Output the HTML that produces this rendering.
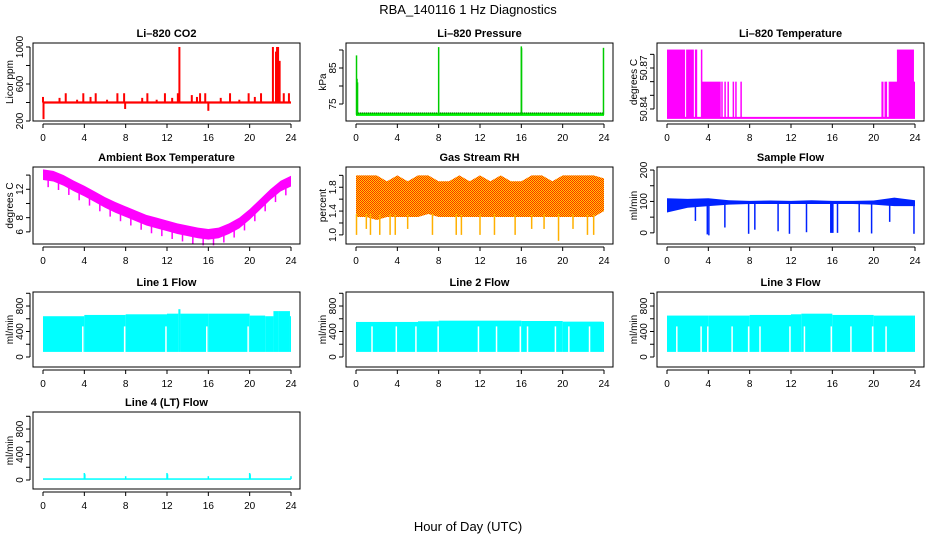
<!DOCTYPE html>
<html><head><meta charset="utf-8">
<style>
html,body{margin:0;padding:0;background:#fff;}
svg{display:block;font-family:"Liberation Sans",Arial,sans-serif;}
</style></head>
<body>
<svg id="chart" width="936" height="540" viewBox="0 0 936 540" xmlns="http://www.w3.org/2000/svg">
<defs>
<pattern id="rhpat" width="2" height="2" patternUnits="userSpaceOnUse">
<rect width="2" height="2" fill="#ffd200"/><rect width="1" height="1" fill="#ff2a00"/><rect x="1" y="1" width="1" height="1" fill="#ff2a00"/>
</pattern>
</defs>
<text x="468" y="14" text-anchor="middle" font-size="13">RBA_140116  1 Hz Diagnostics</text>
<text x="468" y="531" text-anchor="middle" font-size="13">Hour of Day (UTC)</text>
</svg>
<script>
// ---------- data ----------
const xTicks = [0,4,8,12,16,20,24];
// CO2
const co2Base = 400;
const co2SpikeHours = [0.0,0.05,1.6,2.2,3.3,3.9,4.6,5.1,6.2,7.2,7.85,7.95,9.6,10.1,11.0,11.8,12.5,13.05,13.2,14.4,14.9,15.2,15.7,16.0,17.2,18.1,19.0,19.9,20.5,21.1,22.25,22.55,22.65,22.75,22.9,23.3,23.8];
const co2SpikeVals  = [460,220,450,500,430,500,460,500,430,500,500,330,450,500,430,500,450,500,1000,480,460,500,500,310,450,500,430,500,460,500,1000,950,1000,1000,850,500,500];
// Pressure
const presBase = 72;
const presSpikeHours = [0.05,0.1,0.15,8.0,16.0,16.02,23.95];
const presSpikeVals  = [88.5,82,81,90.8,91,90.5,90.6];
// Li-820 temperature
const tempLow = 50.8335;
const tempBarStart = [0.0,1.85,2.7,3.35,5.25,5.55,5.85,6.35,6.6,7.1,20.75,21.05,21.45,22.25];
const tempBarEnd   = [1.75,2.6,2.75,5.2,5.35,5.65,5.95,6.45,6.7,7.2,20.95,21.3,24.0,23.9];
const tempBarTop   = [50.8835,50.8835,50.8835,50.86,50.86,50.86,50.86,50.86,50.86,50.86,50.86,50.86,50.86,50.8835];
const tempExtraStart = [2.85,3.35];
const tempExtraTop = [50.8835,50.8835];
// Ambient box temperature (hourly)
const ambHours = [0,1,2,3,4,5,6,7,8,9,10,11,12,13,14,15,16,17,18,19,20,21,22,23,24];
const ambVals  = [14.6,14.4,13.8,13.0,12.3,11.5,10.7,10.0,9.4,8.8,8.2,7.8,7.4,7.0,6.7,6.4,6.2,6.4,7.0,7.8,9.0,10.4,11.8,13.0,13.7];
// RH
const rhHours = [0,1,2,3,4,5,6,7,8,9,10,11,12,13,14,15,16,17,18,19,20,21,22,23,24];
const rhTop   = [2.0,2.0,2.0,1.9,2.0,1.9,2.0,2.0,1.9,1.9,2.0,1.9,2.0,1.9,2.0,1.9,1.9,2.0,2.0,1.9,2.0,2.0,2.0,2.0,1.95];
const rhLow   = [1.3,1.3,1.25,1.3,1.3,1.3,1.3,1.35,1.3,1.3,1.3,1.3,1.3,1.3,1.3,1.3,1.3,1.3,1.3,1.3,1.3,1.3,1.3,1.3,1.4];
const rhDipHours = [0.05,1.0,1.4,2.3,3.3,3.8,5.0,7.4,9.7,10.2,12.0,13.4,15.4,17.0,18.2,19.6,21.0,22.4,23.0];
const rhDipVals  = [1.0,1.1,1.0,1.0,1.0,1.0,1.1,1.0,1.0,1.0,1.0,1.0,1.0,1.1,1.1,0.9,1.1,1.0,1.0];
// Sample flow
const sfHours = [0,2,4,6,8,10,12,14,16,18,20,22,24];
const sfTop = [110,108,110,104,102,103,102,104,102,102,103,112,104];
const sfLow = [65,80,85,90,92,92,92,92,92,92,90,85,85];
const sfDipHours = [2.75,3.9,4.05,5.6,7.9,8.5,10.75,11.85,13.5,15.85,15.95,16.05,16.5,18.6,19.8,21.55,23.9];
const sfDipVals  = [38,-5,-8,17,-3,10,5,-3,2,0,0,0,0,2,-2,35,-3];
// Line flows
const l1Hours = [0,4,8,12,13.1,13.3,16,20,21.5,22.3,22.8,23.9];
const l1Top   = [640,660,670,680,750,680,680,650,640,720,720,640];
const l1Gaps  = [3.85,7.9,11.9,15.85,19.85];
const l2Hours = [0,6,8,12,16,20,23.9];
const l2Top   = [550,560,570,570,565,555,550];
const l2Gaps  = [1.55,3.9,5.8,7.95,11.85,13.6,15.9,16.6,19.3,20.6,22.6];
const l3Hours = [0,4,8,12,13,16,20,23.9];
const l3Top   = [650,650,660,670,680,660,650,650];
const l3Gaps  = [0.95,3.3,3.95,6.3,7.9,9.0,11.9,13.3,15.9,17.8,19.9,21.2];
// Line 4
const l4Base = 15;
const l4SpikeHours = [4.0,4.05,8.0,12.0,12.05,16.0,20.0,20.05,24.0];
const l4SpikeVals  = [110,90,60,110,90,60,110,90,60];

// ---------- helpers ----------
const svg = document.getElementById('chart');
const NS = 'http://www.w3.org/2000/svg';
function mk(tag, attrs, parent){
  const e = document.createElementNS(NS, tag);
  for (const k in attrs) e.setAttribute(k, attrs[k]);
  (parent||svg).appendChild(e);
  return e;
}
const colX = [33,346,657];
const rowY = [43,167,292,412];
const rowH = [78,77,75,77];
const BW = 267;

function panel(name, col, row, title, ylab, ymin, ymax, yTicks, yLabels){
  const g = mk('g', {});
  
  
  const x0 = colX[col], y0 = rowY[row], h = rowH[row];
  const xs = v => x0 + 10 + v * 248 / 24;
  const ys = v => y0 + h - (v - ymin) / (ymax - ymin) * h;
  const t = mk('text', {x: x0 + BW/2, y: y0 - 6, 'text-anchor':'middle', 'font-size':'11', 'font-weight':'bold'}, g);
  t.textContent = title;
  
  
  const yl = mk('text', {transform:`translate(${x0-20},${y0+h/2}) rotate(-90)`, 'text-anchor':'middle', 'font-size':'10'}, g);
  yl.textContent = ylab;
  
  
  // x axis
  mk('line', {x1: xs(0), x2: xs(24), y1: y0+h+3, y2: y0+h+3, stroke:'#000'}, g);
  xTicks.forEach(v => {
    mk('line', {x1: xs(v), x2: xs(v), y1: y0+h+3, y2: y0+h+7, stroke:'#000'}, g);
    const tx = mk('text', {x: xs(v), y: y0+h+20, 'text-anchor':'middle', 'font-size':'10'}, g);
    tx.textContent = v;
    
    
  });
  // y axis
  mk('line', {x1: x0-3, x2: x0-3, y1: ys(yTicks[0]), y2: ys(yTicks[yTicks.length-1]), stroke:'#000'}, g);
  yTicks.forEach((v,i) => {
    mk('line', {x1: x0-7, x2: x0-3, y1: ys(v), y2: ys(v), stroke:'#000'}, g);
    if (yLabels[i] !== '') {
      const ty = mk('text', {transform:`translate(${x0-10},${ys(v)}) rotate(-90)`, 'text-anchor':'middle', 'font-size':'10'}, g);
      ty.textContent = yLabels[i];
      
      
    }
  });
  const plot = mk('g', {}, g);
  
  
  const box = mk('rect', {x: x0, y: y0, width: BW, height: h, fill:'none', stroke:'#000'}, g);
  
  
  return {plot, xs, ys};
}
function vline(p, x, ya, yb, color, w){
  mk('line', {x1:x, x2:x, y1:ya, y2:yb, stroke:color, 'stroke-width': w||1.2}, p);
}
function bandPoly(p, xsArr, top, low, xs, ys, fill){
  let pts = xsArr.map((h,i) => xs(h)+','+ys(top[i]));
  for (let i = xsArr.length-1; i >= 0; i--) pts.push(xs(xsArr[i])+','+ys(low[i]));
  mk('polygon', {points: pts.join(' '), fill: fill}, p);
}
function stepBand(p, hours, top, lo, xs, ys, fill, endH){
  hours.forEach((h,i) => {
    const h2 = i < hours.length-1 ? hours[i+1] : endH;
    mk('rect', {x: xs(h), y: ys(top[i]), width: xs(h2)-xs(h), height: ys(lo)-ys(top[i]), fill: fill}, p);
  });
}

// ---------- CO2 ----------
(function(){
  const P = panel('co2-panel',0,0,'Li\u2013820 CO2','Licor ppm',200,1043,[200,400,600,800,1000],['200','','600','','1000']);
  co2SpikeHours.forEach((h,i) => vline(P.plot, P.xs(h), P.ys(co2Base), P.ys(co2SpikeVals[i]), '#ff0000', 2));
  mk('rect', {x:P.xs(0), y:P.ys(co2Base+12), width:P.xs(24)-P.xs(0), height:P.ys(co2Base-12)-P.ys(co2Base+12), fill:'#ff0000'}, P.plot);
})();
// ---------- Pressure ----------
(function(){
  const P = panel('pressure-panel',1,0,'Li\u2013820 Pressure','kPa',70.28,91.94,[75,80,85,90],['75','','85','']);
  mk('rect', {x:P.xs(0), y:P.ys(presBase+0.6), width:P.xs(24)-P.xs(0), height:P.ys(presBase-0.3)-P.ys(presBase+0.6), fill:'#00ee00'}, P.plot);
  mk('line', {x1:P.xs(0), x2:P.xs(24), y1:P.ys(presBase+0.5), y2:P.ys(presBase+0.5), stroke:'#004400', 'stroke-dasharray':'1,1'}, P.plot);
  presSpikeHours.forEach((h,i) => {
    vline(P.plot, P.xs(h), P.ys(presBase), P.ys(presSpikeVals[i]), '#00cc00', 1.5);
  });
})();
// ---------- Li-820 Temperature ----------
(function(){
  const P = panel('li820-temp-panel',2,0,'Li\u2013820 Temperature','degrees C',50.8312,50.8883,[50.84,50.85,50.86,50.87,50.88],['50.84','','','50.87','']);
  tempBarStart.forEach((h,i) => {
    mk('rect', {x:P.xs(h), y:P.ys(tempBarTop[i]), width:Math.max(1.5,P.xs(tempBarEnd[i])-P.xs(h)), height:P.ys(tempLow)-P.ys(tempBarTop[i]), fill:'#ff00ff'}, P.plot);
  });
  tempExtraStart.forEach((h,i) => vline(P.plot, P.xs(h), P.ys(tempLow), P.ys(tempExtraTop[i]), '#ff00ff', 1.5));
  mk('line', {x1:P.xs(0), x2:P.xs(24), y1:P.ys(tempLow), y2:P.ys(tempLow), stroke:'#ff00ff', 'stroke-width':2}, P.plot);
})();
// ---------- Ambient ----------
(function(){
  const P = panel('ambient-temp-panel',0,1,'Ambient Box Temperature','degrees C',4.29,15.14,[6,8,10,12,14],['6','8','','12','']);
  bandPoly(P.plot, ambHours, ambVals.map(v=>v+0.2), ambVals.map(v=>v-1.3), P.xs, P.ys, '#ff00ff');
  ambHours.slice(0,-1).forEach((h,i) => {
    vline(P.plot, P.xs(h+0.5), P.ys((ambVals[i]+ambVals[i+1])/2), P.ys((ambVals[i]+ambVals[i+1])/2-2.2), '#ff00ff', 1.5);
  });
})();
// ---------- RH ----------
(function(){
  const P = panel('gas-rh-panel',1,1,'Gas Stream RH','percent',0.847,2.14,[1.0,1.2,1.4,1.6,1.8,2.0],['1.0','','1.4','','1.8','']);
  bandPoly(P.plot, rhHours, rhTop, rhLow, P.xs, P.ys, 'url(#rhpat)');
  rhDipHours.forEach((h,i) => vline(P.plot, P.xs(h), P.ys(1.35), P.ys(rhDipVals[i]), '#ffb000', 1.5));
})();
// ---------- Sample flow ----------
(function(){
  const P = panel('sample-flow-panel',2,1,'Sample Flow','ml/min',-35.5,209.7,[0,50,100,150,200],['0','','100','','200']);
  bandPoly(P.plot, sfHours, sfTop, sfLow, P.xs, P.ys, '#0022ff');
  sfDipHours.forEach((h,i) => vline(P.plot, P.xs(h), P.ys(95), P.ys(sfDipVals[i]), '#0022ff', 1.5));
})();
// ---------- Line flows ----------
function flowPanel(name, col, title, hours, top, gaps){
  const P = panel(name,col,2,title,'ml/min',-157,1020,[0,200,400,600,800,1000],['0','','400','','800','']);
  stepBand(P.plot, hours, top, 80, P.xs, P.ys, '#00ffff', 24);
  gaps.forEach(h => vline(P.plot, P.xs(h), P.ys(480), P.ys(75), '#ffffff', 1.5));
}
flowPanel('line1-flow-panel',0,'Line 1 Flow',l1Hours,l1Top,l1Gaps);
flowPanel('line2-flow-panel',1,'Line 2 Flow',l2Hours,l2Top,l2Gaps);
flowPanel('line3-flow-panel',2,'Line 3 Flow',l3Hours,l3Top,l3Gaps);
// ---------- Line 4 ----------
(function(){
  const P = panel('line4-flow-panel',0,3,'Line 4 (LT) Flow','ml/min',-141,1067,[0,200,400,600,800,1000],['0','','400','','800','']);
  mk('rect', {x:P.xs(0), y:P.ys(l4Base+12), width:P.xs(24)-P.xs(0), height:P.ys(l4Base-12)-P.ys(l4Base+12), fill:'#00ffff'}, P.plot);
  l4SpikeHours.forEach((h,i) => vline(P.plot, P.xs(h), P.ys(l4Base), P.ys(l4SpikeVals[i]), '#00ffff', 1.5));
})();
</script>
</body></html>
